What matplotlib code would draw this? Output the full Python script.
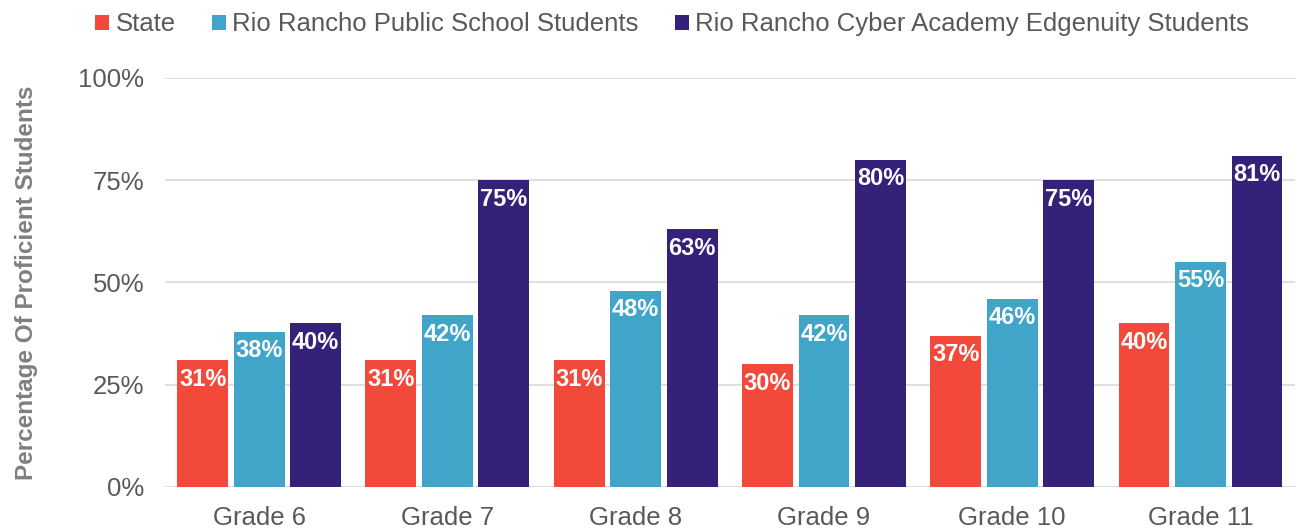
import matplotlib
matplotlib.use("Agg")
import matplotlib.pyplot as plt
import numpy as np

plt.rcParams["font.family"] = ["Liberation Sans", "DejaVu Sans"]

grades = ["Grade 6", "Grade 7", "Grade 8", "Grade 9", "Grade 10", "Grade 11"]
state = [31, 31, 31, 30, 37, 40]
rio_public = [38, 42, 48, 42, 46, 55]
rio_cyber = [40, 75, 63, 80, 75, 81]
series_names = [
    "State",
    "Rio Rancho Public School Students",
    "Rio Rancho Cyber Academy Edgenuity Students",
]
colors = ["#F2493B", "#41A4C9", "#35207A"]


def main() -> None:
    fig = plt.figure(figsize=(13.03, 5.29), dpi=100)
    ax = fig.add_axes([0.1266, 0.0794, 0.867, 0.7732])

    x = np.arange(len(grades))
    width = 0.27
    step = 0.30
    for i, (vals, name, c) in enumerate(zip([state, rio_public, rio_cyber], series_names, colors)):
        pos = x + (i - 1) * step
        ax.bar(pos, vals, width, color=c, label=name, zorder=3)
        for p, v in zip(pos, vals):
            ax.text(p, v - 1.8, f"{v}%", ha="center", va="top", color="white",
                    fontsize=17, fontweight="bold", zorder=4)

    ax.set_ylim(0, 100)
    ax.set_xlim(-0.5, len(grades) - 0.5)
    ax.set_yticks([0, 25, 50, 75, 100])
    ax.set_yticklabels(["0%", "25%", "50%", "75%", "100%"])
    ax.set_xticks(x)
    ax.set_xticklabels(grades)
    ax.tick_params(axis="both", length=0, labelsize=18.5, colors="#595959")
    ax.tick_params(axis="y", pad=15)
    ax.tick_params(axis="x", pad=14)
    ax.grid(axis="y", color="#D9D9D9", linewidth=1.2, zorder=0)
    for s in ax.spines.values():
        s.set_visible(False)

    ax.set_ylabel("Percentage Of Proficient Students", fontsize=17.5, fontweight="bold",
                  color="#7F7F7F", labelpad=29)

    ax.legend(loc="lower center", bbox_to_anchor=(0.449, 1.045), ncol=3, frameon=False,
              fontsize=18.5, handlelength=0.55, handleheight=0.55, handletextpad=0.25,
              columnspacing=1.4, labelcolor="#595959")

    fig.savefig("out.png", dpi=100)


if __name__ == "__main__":
    main()
